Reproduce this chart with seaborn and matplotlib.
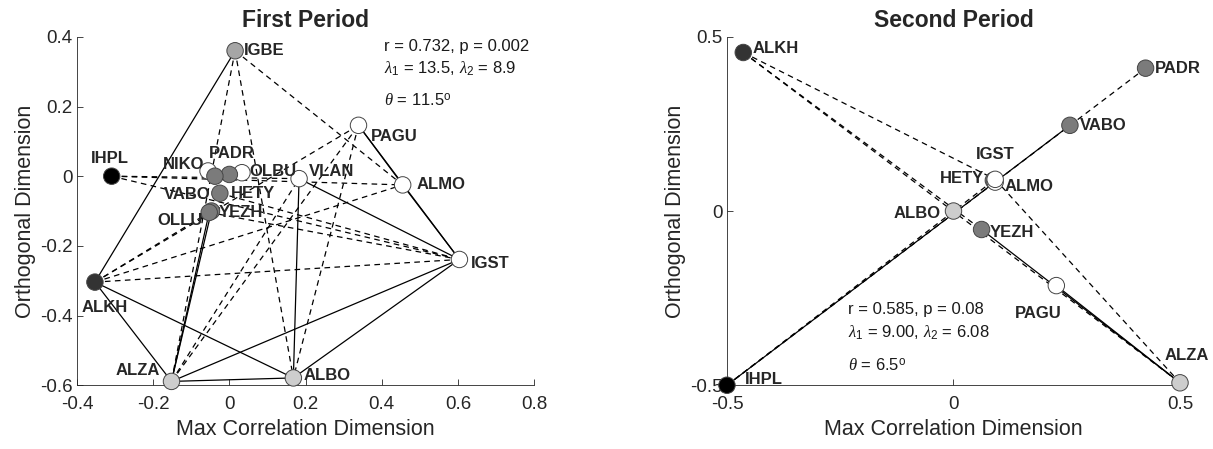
#%% Package Imports

import matplotlib
matplotlib.use('Agg')
import matplotlib as mpl
import matplotlib.pyplot as plt
import seaborn as sns
import pandas as pd

#%% Data: first period

names_p1 = ['NIKO', 'OLBU', 'VLAN', 'PAGU', 'ALMO', 'IGST', 'IGBE', 'ALZA', 'ALBO',
            'PADR', 'VABO', 'HETY', 'OLLU', 'YEZH', 'ALKH', 'IHPL']
x_p1 = [-0.056, 0.033, 0.183, 0.339, 0.455, 0.604, 0.015, -0.152, 0.168,
        0.000, -0.038, -0.025, -0.047, -0.053, -0.353, -0.309]
y_p1 = [0.015, 0.010, -0.007, 0.146, -0.025, -0.239, 0.360, -0.589, -0.579,
        0.005, 0.000, -0.049, -0.100, -0.104, -0.304, 0.000]

solid_p1 = [('IGBE', 'ALKH'), ('PAGU', 'ALMO'), ('ALMO', 'IGST'), ('PAGU', 'IGST'),
            ('VLAN', 'IGST'), ('VLAN', 'ALBO'), ('ALKH', 'ALZA'), ('ALKH', 'ALBO'),
            ('ALZA', 'ALBO'), ('ALZA', 'IGST'), ('ALBO', 'IGST'),
            ('YEZH', 'ALZA'), ('OLLU', 'ALZA')]
dashed_p1 = [('IGBE', 'ALZA'), ('IGBE', 'ALBO'), ('IGBE', 'ALMO'),
             ('IHPL', 'ALMO'), ('IHPL', 'VLAN'), ('IHPL', 'IGST'),
             ('HETY', 'IGST'), ('YEZH', 'IGST'),
             ('ALKH', 'YEZH'), ('ALKH', 'ALMO'), ('ALKH', 'IGST'), ('ALKH', 'PAGU'),
             ('ALZA', 'VLAN'), ('ALZA', 'PAGU'), ('PAGU', 'ALBO')]

stats_p1 = ['r = 0.732, p = 0.002',
            r'$\lambda_1$ = 13.5, $\lambda_2$ = 8.9',
            r'$\theta$ = 11.5$^\mathregular{o}$']

#%% Data: second period

names_p2 = ['HETY', 'ALMO', 'IGST', 'PADR', 'VABO', 'ALBO', 'YEZH', 'PAGU', 'ALZA',
            'ALKH', 'IHPL']
x_p2 = [0.088, 0.092, 0.092, 0.424, 0.257, 0.000, 0.062, 0.227, 0.500, -0.464, -0.500]
y_p2 = [0.088, 0.083, 0.091, 0.410, 0.246, 0.000, -0.053, -0.214, -0.493, 0.455, -0.500]

solid_p2 = [('IHPL', 'VABO'), ('YEZH', 'ALZA'), ('PAGU', 'ALZA')]
dashed_p2 = [('IHPL', 'PADR'), ('IHPL', 'IGST'), ('ALKH', 'ALZA'), ('ALKH', 'YEZH'),
             ('ALKH', 'IGST'), ('IGST', 'ALZA')]

stats_p2 = ['r = 0.585, p = 0.08',
            r'$\lambda_1$ = 9.00, $\lambda_2$ = 6.08',
            r'$\theta$ = 6.5$^\mathregular{o}$']

#%% Styling

shade = {'IHPL': '#000000', 'ALKH': '#333333',
         'PADR': '#7b7b7b', 'VABO': '#7b7b7b', 'HETY': '#7b7b7b', 'YEZH': '#7b7b7b', 'OLLU': '#7b7b7b',
         'IGBE': '#a6a6a6', 'ALZA': '#cdcdcd', 'ALBO': '#cdcdcd',
         'NIKO': '#ffffff', 'OLBU': '#ffffff', 'VLAN': '#ffffff', 'PAGU': '#ffffff',
         'ALMO': '#ffffff', 'IGST': '#ffffff'}

# label offsets in points and horizontal alignment
offsets_p1 = {'IGBE': (6, 0, 'left'), 'PAGU': (9, -8, 'left'), 'ALMO': (10, 0, 'left'),
              'IGST': (8, -3, 'left'), 'IHPL': (-1, 13, 'center'), 'ALKH': (7, -18, 'center'),
              'ALZA': (-8, 8, 'right'), 'ALBO': (7, 2, 'left'), 'VLAN': (7, 5, 'left'),
              'NIKO': (-3, 5, 'right'), 'PADR': (2, 15, 'center'), 'OLBU': (5, 1, 'left'),
              'VABO': (-3, -13, 'right'), 'HETY': (8, 0, 'left'), 'OLLU': (-6, -7, 'right'),
              'YEZH': (7, 0, 'left')}
offsets_p2 = {'ALKH': (7, 3, 'left'), 'PADR': (7, 0, 'left'), 'VABO': (7, 0, 'left'),
              'IGST': (0, 18, 'center'), 'ALMO': (7, -3, 'left'), 'HETY': (-7, 1, 'right'),
              'ALBO': (-9, -2, 'right'), 'YEZH': (6, -2, 'left'), 'PAGU': (-13, -20, 'center'),
              'ALZA': (5, 20, 'center'), 'IHPL': (13, 4, 'left')}

sns.set_style('ticks')
plt.rcParams['font.family'] = ['Liberation Sans', 'DejaVu Sans']
plt.rcParams['mathtext.fontset'] = 'custom'
plt.rcParams['mathtext.rm'] = 'Liberation Sans'
plt.rcParams['mathtext.it'] = 'Liberation Serif:italic'
plt.rcParams['axes.unicode_minus'] = False
plt.rcParams['xtick.direction'] = 'in'
plt.rcParams['ytick.direction'] = 'in'

axis_grey = '#262626'


def draw_period(ax, names, xs, ys, solid, dashed, offsets, stats, stats_xy, title,
                xlim, ylim, ticks_x, ticks_y):
    df = pd.DataFrame({'station': names, 'x': xs, 'y': ys})
    pos = df.set_index('station')

    for a, b in solid:
        ax.plot(pos.loc[[a, b], 'x'], pos.loc[[a, b], 'y'], color='k', lw=0.9,
                zorder=1, clip_on=False)
    for a, b in dashed:
        ax.plot(pos.loc[[a, b], 'x'], pos.loc[[a, b], 'y'], color='k', lw=0.9,
                ls=(0, (4.5, 3.5)), zorder=1, clip_on=False)

    sns.scatterplot(data=df, x='x', y='y', hue='station', palette=shade, s=140,
                    edgecolor='#444444', linewidth=0.7, legend=False, ax=ax,
                    zorder=3, clip_on=False)

    for name, xv, yv in zip(names, xs, ys):
        dx, dy, ha = offsets[name]
        ax.annotate(name, (xv, yv), xytext=(dx, dy), textcoords='offset points',
                    ha=ha, va='center', fontsize=12, fontweight='bold', zorder=4)

    sx, sy = stats_xy
    for txt, yy in zip(stats, sy):
        ax.text(sx, yy, txt, fontsize=12, ha='left', va='center', color='#1a1a1a')

    ax.set_xlim(xlim)
    ax.set_ylim(ylim)
    ax.set_xticks(ticks_x)
    ax.set_yticks(ticks_y)
    ax.xaxis.set_major_formatter(mpl.ticker.FuncFormatter(lambda v, p: '{:g}'.format(round(v, 2))))
    ax.yaxis.set_major_formatter(mpl.ticker.FuncFormatter(lambda v, p: '{:g}'.format(round(v, 2))))
    ax.set_title(title, fontsize=16.5, fontweight='bold', pad=7)
    ax.set_xlabel('Max Correlation Dimension', fontsize=15.5, color=axis_grey, labelpad=4)
    ax.set_ylabel('Orthogonal Dimension', fontsize=15.5, color=axis_grey, labelpad=3)
    ax.tick_params(labelsize=13.5, colors=axis_grey, length=4, width=0.6, pad=3)
    ax.tick_params(axis='x', pad=8)
    sns.despine(ax=ax)
    for side in ['left', 'bottom']:
        ax.spines[side].set_linewidth(0.6)
        ax.spines[side].set_color(axis_grey)


#%% Plot

fig = plt.figure(figsize=(12.13, 4.49), dpi=100)
ax1 = fig.add_axes([0.0635, 0.142, 0.3768, 0.776])
ax2 = fig.add_axes([0.5993, 0.142, 0.3735, 0.776])

draw_period(ax1, names_p1, x_p1, y_p1, solid_p1, dashed_p1, offsets_p1, stats_p1,
            (0.405, [0.371, 0.307, 0.216]), 'First Period',
            (-0.4, 0.8), (-0.6, 0.4), [-0.4, -0.2, 0, 0.2, 0.4, 0.6, 0.8],
            [-0.6, -0.4, -0.2, 0, 0.2, 0.4])
draw_period(ax2, names_p2, x_p2, y_p2, solid_p2, dashed_p2, offsets_p2, stats_p2,
            (-0.232, [-0.283, -0.35, -0.445]), 'Second Period',
            (-0.5, 0.5), (-0.5, 0.5), [-0.5, 0, 0.5], [-0.5, 0, 0.5])

fig.savefig('out.png', dpi=100)
